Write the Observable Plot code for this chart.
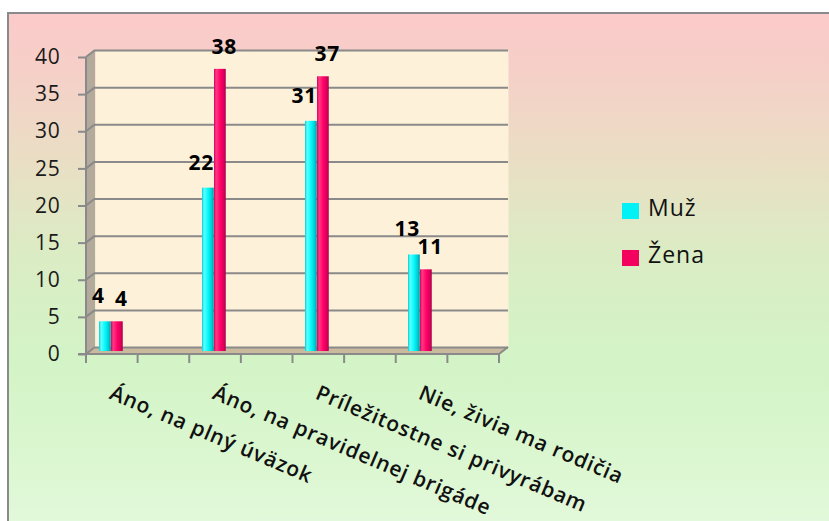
<!DOCTYPE html>
<html>
<head>
<meta charset="utf-8">
<script src="https://cdn.jsdelivr.net/npm/d3@7"></script>
<script src="https://cdn.jsdelivr.net/npm/@observablehq/plot@0.6"></script>
<style>
  html, body { margin: 0; padding: 0; background: #ffffff; }
  #wrap { position: relative; width: 829px; height: 521px; overflow: hidden; font-family: "Open Sans", sans-serif; }
  #bg { position: absolute; left: 7px; top: 12px; width: 850px; height: 540px; box-sizing: border-box;
        border: 2px solid #8a8a8a;
        background: linear-gradient(to bottom, #fbcaca 0%, #f6cfc8 10%, #e9dfc4 28%, #dbecc4 45%, #d3f4c6 65%, #dcf7d2 85%, #e6f9df 100%); }
  #chart { position: absolute; left: 0; top: 0; }
  #legend { position: absolute; left: 622px; top: 199px; }
  .li { position: relative; height: 47px; }
  .sw { position: absolute; left: 0; top: 4px; width: 17px; height: 16px; }
  .lt { position: absolute; left: 26px; top: -8px; font-size: 23px; letter-spacing: 1px; color: #111; }
</style>
</head>
<body>
<div id="wrap">
  <div id="bg"></div>
  <div id="chart"></div>
  <div id="legend"></div>
</div>
<script>
// ---- data ----
const categories = ["Áno, na plný úväzok", "Áno, na pravidelnej brigáde", "Príležitostne si privyrábam", "Nie, živia ma rodičia"];
const seriesNames = ["Muž", "Žena"];
const muzValues = [4, 22, 31, 13];
const zenaValues = [4, 38, 37, 11];
const yTicks = [0, 5, 10, 15, 20, 25, 30, 35, 40];
const seriesColors = ["#00f2f6", "#f4005e"];

// ---- layout ----
const W = 829, H = 521;
const mL = 86, mR = 330, mT = 57, mB = 167;
const DX = 9, DY = -7; // 3D depth offset
const bw = (W - mL - mR) / categories.length;

const rows = [];
categories.forEach((c, i) => {
  rows.push({cat: c, series: seriesNames[0], value: muzValues[i]});
  rows.push({cat: c, series: seriesNames[1], value: zenaValues[i]});
});
const muzRows = rows.filter(d => d.series === seriesNames[0]);
const zenaRows = rows.filter(d => d.series === seriesNames[1]);

const grey = "#8a8a8a";

function walls(index, scales, values, dims) {
  const {width, height, marginLeft, marginRight, marginTop, marginBottom} = dims;
  const x0 = marginLeft, x1 = width - marginRight, yT = marginTop, yB = height - marginBottom;
  const g = d3.create("svg:g");
  g.append("path")
    .attr("d", `M${x0},${yT}L${x0 + DX},${yT + DY}L${x0 + DX},${yB + DY}L${x0},${yB}Z`)
    .attr("fill", "#b3aa9b");
  g.append("path")
    .attr("d", `M${x0},${yB}L${x1},${yB}L${x1 + DX},${yB + DY}L${x0 + DX},${yB + DY}Z`)
    .attr("fill", "#c9b99d");
  return g.node();
}

function edges(index, scales, values, dims) {
  const {width, height, marginLeft, marginRight, marginTop, marginBottom} = dims;
  const x0 = marginLeft, x1 = width - marginRight, yT = marginTop, yB = height - marginBottom;
  const ys = scales.y;
  const g = d3.create("svg:g").attr("stroke", grey).attr("stroke-width", 2).attr("fill", "none");
  for (const t of yTicks) {
    const yy = ys(t);
    g.append("line").attr("x1", x0).attr("y1", yy).attr("x2", x0 + DX).attr("y2", yy + DY);
  }
  g.append("line").attr("x1", x0).attr("y1", yT).attr("x2", x0).attr("y2", yB);
  g.append("line").attr("x1", x1).attr("y1", yB).attr("x2", x1 + DX).attr("y2", yB + DY);
  g.append("line").attr("x1", x0 - 8).attr("y1", yB).attr("x2", x1).attr("y2", yB);
  const n = categories.length * 2;
  for (let k = 0; k <= n; k++) {
    const xx = x0 + k * (x1 - x0) / n;
    g.append("line").attr("x1", xx).attr("y1", yB).attr("x2", xx).attr("y2", yB + 9);
  }
  return g.node();
}

const cyanInsetL = 12, redInsetL = 24, barW = 12;

const labelMarks = categories.map(c =>
  Plot.text([c], {
    x: d => d, text: d => d, frameAnchor: "bottom",
    textAnchor: "start", lineAnchor: "top", rotate: 23,
    dx: -25, dy: 30, fontSize: 21, fontWeight: 600, fill: "#111"
  })
);

const chart = Plot.plot({
  width: W, height: H,
  marginLeft: mL, marginRight: mR, marginTop: mT, marginBottom: mB,
  style: {fontFamily: "'Open Sans', sans-serif", background: "transparent", overflow: "visible"},
  x: {type: "band", domain: categories, padding: 0, axis: null},
  y: {domain: [0, 40], axis: null},
  marks: [
    Plot.frame({fill: "#fdf2d9", stroke: "none", dx: DX, dy: DY}),
    walls,
    Plot.ruleY(yTicks, {stroke: grey, strokeWidth: 2, dx: DX, dy: DY, strokeOpacity: 1}),
    edges,
    Plot.barY(muzRows, {x: "cat", y: "value", fill: "url(#gradCyan)",
      insetLeft: cyanInsetL, insetRight: bw - cyanInsetL - barW, dy: -3}),
    Plot.barY(zenaRows, {x: "cat", y: "value", fill: "url(#gradRed)",
      insetLeft: redInsetL, insetRight: bw - redInsetL - barW, dy: -3}),
    Plot.text(muzRows, {x: "cat", y: "value", text: d => String(d.value),
      dx: cyanInsetL + barW / 2 - bw / 2 - 7, dy: -21.5, lineAnchor: "bottom",
      fontSize: 21, fontWeight: 700, fill: "#000"}),
    Plot.text(zenaRows, {x: "cat", y: "value", text: d => String(d.value),
      dx: redInsetL + barW / 2 - bw / 2 + 4, dy: -18.5, lineAnchor: "bottom",
      fontSize: 21, fontWeight: 700, fill: "#000"}),
    Plot.axisY({ticks: yTicks, tickSize: 8, tickPadding: 18, stroke: grey, strokeWidth: 2,
      fill: "#1a1a1a", fontSize: 21, label: null, tickFormat: d => String(d)}),
    ...labelMarks
  ]
});

d3.select(chart).selectAll("text").style("letter-spacing", "0.8px");
d3.select(chart).insert("defs", ":first-child").html(`
  <linearGradient id="gradCyan" x1="0" x2="1" y1="0" y2="0">
    <stop offset="0" stop-color="#00cfd8"/>
    <stop offset="0.18" stop-color="#5fffff"/>
    <stop offset="0.55" stop-color="#00f6f8"/>
    <stop offset="0.85" stop-color="#00c6cf"/>
    <stop offset="1" stop-color="#008f9a"/>
  </linearGradient>
  <linearGradient id="gradRed" x1="0" x2="1" y1="0" y2="0">
    <stop offset="0" stop-color="#d2005a"/>
    <stop offset="0.18" stop-color="#ff3a85"/>
    <stop offset="0.55" stop-color="#ff0066"/>
    <stop offset="0.85" stop-color="#d8005a"/>
    <stop offset="1" stop-color="#a30046"/>
  </linearGradient>`);

document.getElementById("chart").appendChild(chart);

const legend = d3.select("#legend");
seriesNames.forEach((s, i) => {
  const li = legend.append("div").attr("class", "li");
  li.append("div").attr("class", "sw").style("background", seriesColors[i]);
  li.append("div").attr("class", "lt").text(s);
});
</script>
</body>
</html>
